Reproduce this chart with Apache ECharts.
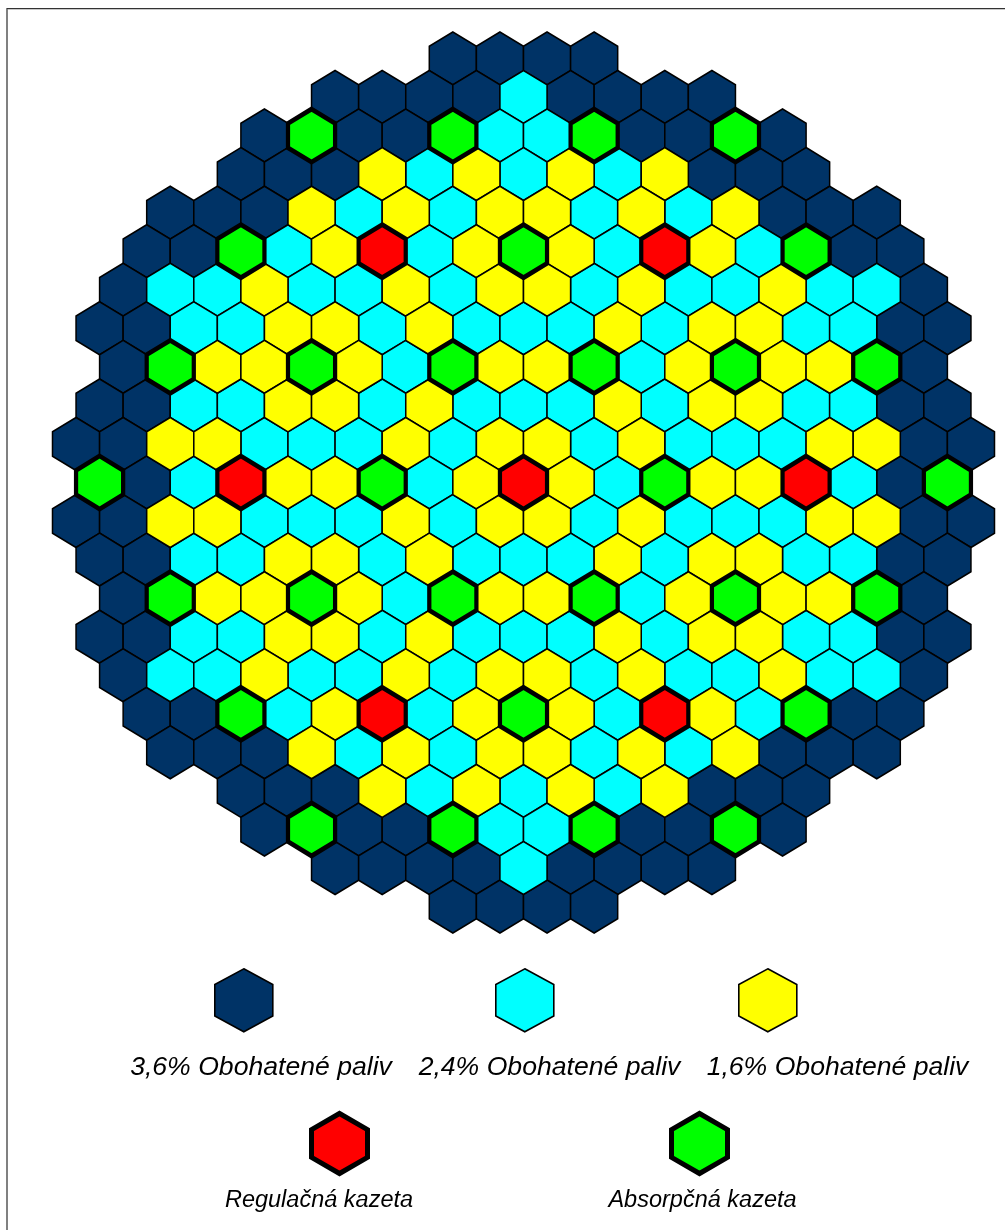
<!DOCTYPE html>
<html>
<head>
<meta charset="utf-8">
<title>Aktivna zona</title>
<style>
	html, body { margin: 0; padding: 0; background: #fff; }
	#main { width: 1005px; height: 1230px; }
</style>
<script src="https://cdn.jsdelivr.net/npm/echarts@6/dist/echarts.min.js"></script>
</head>
<body>
<div id="main"></div>
<script>
'use strict';
// one string per row of the core, top to bottom
// D 3,6%  C 2,4%  Y 1,6%  R regulacna  G absorpcna
var coreRows = [
	'DDDD',
	'DDDDCDDDD',
	'DGDDGCCGDDGD',
	'DDDYCYCYCYDDD',
	'DDDYCYCYYCYCYDDD',
	'DDGCYRCYGYCRYCGDD',
	'DCCYCCYCYYCYCCYCCD',
	'DDCCYYCYCCCYCYYCCDD',
	'DGYYGYCGYYGCYGYYGD',
	'DDCCYYCYCCCYCYYCCDD',
	'DDYYCCCYCYYCYCCCYYDD',
	'GDCRYYGCYRYCGYYRCDG',
	'DDYYCCCYCYYCYCCCYYDD',
	'DDCCYYCYCCCYCYYCCDD',
	'DGYYGYCGYYGCYGYYGD',
	'DDCCYYCYCCCYCYYCCDD',
	'DCCYCCYCYYCYCCYCCD',
	'DDGCYRCYGYCRYCGDD',
	'DDDYCYCYYCYCYDDD',
	'DDDYCYCYCYDDD',
	'DGDDGCCGDDGD',
	'DDDDCDDDD',
	'DDDD'
];
var fuelKeys = ['D', 'C', 'Y', 'R', 'G'];
var fuelNames = ['3,6% Obohatené paliv', '2,4% Obohatené paliv', '1,6% Obohatené paliv', 'Regulačná kazeta', 'Absorpčná kazeta'];
var fuelColors = ['#003366', '#00ffff', '#ffff00', '#ff0000', '#00ff00'];

var hexPath = 'path://M50 0L100 27L100 73L50 100L0 73L0 27Z';
var legendPath = 'path://M50 0L100 25L100 75L50 100L0 75L0 25Z';

// x in half columns from the centre, y in rows from the centre
function pointsFor(key) {
	var points = [];
	coreRows.forEach(function(row, r) {
		for (var c = 0; c < row.length; c++) {
			if (row.charAt(c) === key) {
				points.push([c * 2 - (row.length - 1), r - 11]);
			}
		}
	});
	return points;
}

var series = fuelKeys.map(function(key, n) {
	var control = n > 2;
	return {
		name: fuelNames[n],
		type: 'scatter',
		data: pointsFor(key),
		symbol: hexPath,
		symbolSize: [47.1, 53],
		z: control ? 3 : 2,
		silent: true,
		itemStyle: {
			color: fuelColors[n],
			opacity: 1,
			borderColor: '#000',
			borderWidth: control ? 4.5 : 1.6
		}
	};
});

// legend keys, the captions go in graphic because legend text can't sit under the icon
var legendBoxes = [
	[214, 968, 58, 63],
	[495, 968, 58, 63],
	[738, 968, 58, 63],
	[309, 1111, 56, 60],
	[669, 1111, 56, 60]
];
var legends = fuelNames.map(function(name, n) {
	var box = legendBoxes[n];
	return {
		data: [name],
		left: box[0],
		top: box[1],
		padding: 0,
		itemWidth: box[2],
		itemHeight: box[3],
		icon: n > 2 ? hexPath : legendPath,
		symbolKeepAspect: false,
		selectedMode: false,
		formatter: function() { return ''; },
		itemStyle: {
			borderColor: '#000',
			borderWidth: n > 2 ? 5 : 1.6
		}
	};
});

var captionPos = [[261, 1068], [549.5, 1068], [837.5, 1068], [319, 1200], [702.5, 1200]];
var captionSize = [26.6, 26.6, 26.6, 23.5, 23.5];
var captions = fuelNames.map(function(name, n) {
	return {
		type: 'text',
		x: captionPos[n][0],
		y: captionPos[n][1],
		silent: true,
		style: {
			text: name,
			fill: '#000',
			font: 'italic ' + captionSize[n] + 'px "Liberation Sans", Arial, sans-serif',
			textAlign: 'center',
			textVerticalAlign: 'middle'
		}
	};
});

var frame = [
	{ type: 'rect', silent: true, shape: { x: 6, y: 8, width: 2, height: 1222 }, style: { fill: '#808080' } },
	{ type: 'rect', silent: true, shape: { x: 7, y: 8, width: 998, height: 1 }, style: { fill: '#333333' } },
	{ type: 'rect', silent: true, shape: { x: 8, y: 9, width: 997, height: 1 }, style: { fill: '#c8c8c8' } }
];

var chart = echarts.init(document.getElementById('main'), null, { renderer: 'canvas' });
chart.setOption({
	animation: false,
	backgroundColor: '#fff',
	grid: { left: 0, right: 0, top: 0, bottom: 0 },
	xAxis: { type: 'value', show: false, min: -22.229, max: 20.446 },
	yAxis: { type: 'value', show: false, inverse: true, min: -12.516, max: 19.39 },
	legend: legends,
	graphic: frame.concat(captions),
	series: series
});
</script>
</body>
</html>
